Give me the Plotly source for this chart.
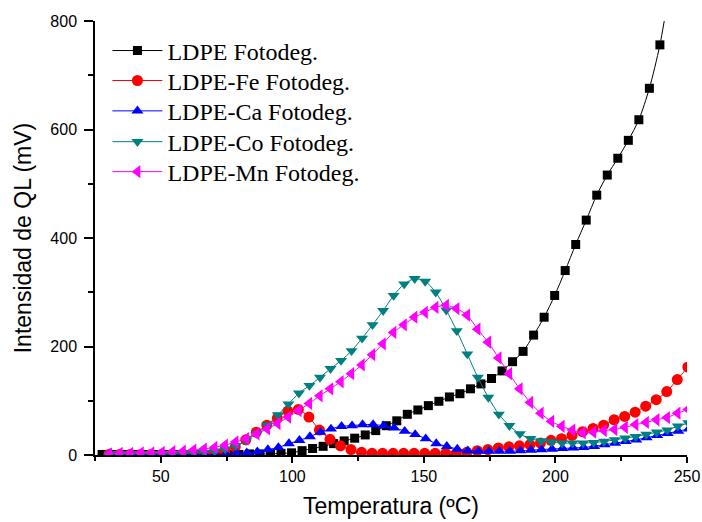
import plotly.graph_objects as go

# ---------------- data ----------------
t_ldpe = [27.7, 31.7, 35.7, 39.7, 43.7, 47.7, 51.7, 55.7, 59.7, 63.7, 67.7, 71.7, 75.7, 79.7,
          83.7, 87.7, 91.7, 95.7, 99.7, 103.7, 107.7, 111.7, 115.7, 119.7, 123.7, 127.7, 131.7,
          135.7, 139.7, 143.7, 147.7, 151.7, 155.7, 159.7, 163.7, 167.7, 171.7, 175.7, 179.7,
          183.7, 187.7, 191.7, 195.7, 199.7, 203.7, 207.7, 211.7, 215.7, 219.7, 223.7, 227.7,
          231.7, 235.7, 239.7, 243.7]
v_ldpe = [1, 1, 1, 1, 1, 1, 1, 1, 1, 1, 1, 1, 1, 1,
          2, 2, 2, 3, 4, 8, 12, 16, 21, 26, 31, 37, 45,
          54, 63, 75, 83, 91, 99, 107, 113, 122, 131, 141, 155,
          172, 191, 221, 254, 294, 340, 388, 433, 479, 516, 547, 580,
          618, 676, 756, 870]

t_fe = [30.3, 34.3, 38.3, 42.3, 46.3, 50.3, 54.3, 58.3, 62.3, 66.3, 70.3, 74.3, 78.3, 82.3,
        86.3, 90.3, 94.3, 98.3, 102.3, 106.3, 110.3, 114.3, 118.3, 122.3, 126.3, 130.3, 134.3,
        138.3, 142.3, 146.3, 150.3, 154.3, 158.3, 162.3, 166.3, 170.3, 174.3, 178.3, 182.3,
        186.3, 190.3, 194.3, 198.3, 202.3, 206.3, 210.3, 214.3, 218.3, 222.3, 226.3, 230.3,
        234.3, 238.3, 242.3, 246.3, 250.3]
v_fe = [1, 1, 1, 1, 1, 1, 1, 1, 2, 2, 4, 8, 15, 28,
        42, 55, 68, 81, 84, 70, 46, 29, 17, 10, 5, 3, 3,
        3, 3, 3, 3, 3, 3, 3, 5, 8, 10, 13, 15,
        17, 19, 22, 27, 30, 36, 43, 49, 55, 65, 71, 79,
        90, 102, 117, 139, 162]

t_ca = [30.7, 34.7, 38.7, 42.7, 46.7, 50.7, 54.7, 58.7, 62.7, 66.7, 70.7, 74.7, 78.7, 82.7,
        86.7, 90.7, 94.7, 98.7, 102.7, 106.7, 110.7, 114.7, 118.7, 122.7, 126.7, 130.7, 134.7,
        138.7, 142.7, 146.7, 150.7, 154.7, 158.7, 162.7, 166.7, 170.7, 174.7, 178.7, 182.7,
        186.7, 190.7, 194.7, 198.7, 202.7, 206.7, 210.7, 214.7, 218.7, 222.7, 226.7, 230.7,
        234.7, 238.7, 242.7, 246.7, 250.7]
v_ca = [3, 2, 1, 1, 1, 1, 1, 1, 1, 1, 1, 2, 3, 4,
        6, 10, 14, 21, 27, 34, 42, 48, 53, 54, 56, 56, 54,
        50, 44, 38, 30, 21, 16, 11, 8, 7, 7, 7, 7,
        8, 9, 10, 11, 12, 13, 14, 16, 19, 22, 25, 28,
        32, 36, 40, 44, 48]

t_co = [30.5, 34.5, 38.5, 42.5, 46.5, 50.5, 54.5, 58.5, 62.5, 66.5, 70.5, 74.5, 78.5, 82.5,
        86.5, 90.5, 94.5, 98.5, 102.5, 106.5, 110.5, 114.5, 118.5, 122.5, 126.5, 130.5, 134.5,
        138.5, 142.5, 146.5, 150.5, 154.5, 158.5, 162.5, 166.5, 170.5, 174.5, 178.5, 182.5,
        186.5, 190.5, 194.5, 198.5, 202.5, 206.5, 210.5, 214.5, 218.5, 222.5, 226.5, 230.5,
        234.5, 238.5, 242.5, 246.5, 250.5]
v_co = [2, 2, 2, 2, 2, 2, 2, 3, 4, 5, 7, 11, 17, 27,
        40, 55, 74, 94, 114, 128, 143, 159, 174, 192, 215, 240, 266,
        294, 315, 325, 320, 300, 267, 229, 186, 143, 106, 75, 54,
        39, 30, 26, 24, 22, 22, 22, 23, 25, 28, 31, 34,
        38, 42, 46, 53, 59]

t_mn = [30.4, 34.4, 38.4, 42.4, 46.4, 50.4, 54.4, 58.4, 62.4, 66.4, 70.4, 74.4, 78.4, 82.4,
        86.4, 90.4, 94.4, 98.4, 102.4, 106.4, 110.4, 114.4, 118.4, 122.4, 126.4, 130.4, 134.4,
        138.4, 142.4, 146.4, 150.4, 154.4, 158.4, 162.4, 166.4, 170.4, 174.4, 178.4, 182.4,
        186.4, 190.4, 194.4, 198.4, 202.4, 206.4, 210.4, 214.4, 218.4, 222.4, 226.4, 230.4,
        234.4, 238.4, 242.4, 246.4, 250.4]
v_mn = [2, 3, 3, 4, 4, 5, 6, 7, 9, 11, 14, 18, 24, 30,
        39, 48, 58, 70, 82, 95, 109, 122, 135, 150, 166, 185, 205,
        226, 240, 254, 263, 272, 276, 270, 258, 232, 208, 179, 150,
        122, 97, 77, 62, 53, 46, 41, 42, 45, 47, 51, 56,
        60, 65, 69, 77, 84]

series_names = ["LDPE Fotodeg.", "LDPE-Fe Fotodeg.", "LDPE-Ca Fotodeg.",
                "LDPE-Co Fotodeg.", "LDPE-Mn Fotodeg."]
x_ticks = [50, 100, 150, 200, 250]
y_ticks = [0, 200, 400, 600, 800]

# ---------------- styles ----------------
colors = ["#000000", "#FF0000", "#0000FF", "#008080", "#FF00FF"]
symbols = ["square", "circle", "triangle-up", "triangle-down", "triangle-left"]
msizes = [9, 11, 10.5, 10.5, 11.5]
legend_ids = ["legend", "legend2", "legend3", "legend4", "legend5"]
legend_y = [0.931, 0.862, 0.792, 0.721, 0.652]

xs = [t_ldpe, t_fe, t_ca, t_co, t_mn]
ys = [v_ldpe, v_fe, v_ca, v_co, v_mn]

fig = go.Figure()
for i in range(5):
    assert len(xs[i]) == len(ys[i])
    fig.add_trace(go.Scatter(
        x=xs[i], y=ys[i], name=series_names[i], mode="lines+markers",
        line=dict(color=colors[i], width=1, shape="spline", smoothing=0.8),
        marker=dict(symbol=symbols[i], size=msizes[i], color=colors[i],
                    line=dict(width=0)),
        legend=legend_ids[i],
    ))

axis_font = dict(family="Liberation Sans, Arial, sans-serif", size=16, color="black")
title_font = dict(family="Liberation Sans, Arial, sans-serif", size=23, color="black")

fig.update_xaxes(
    range=[25, 250], tickvals=x_ticks, ticks="outside", ticklen=6, tickwidth=1.5,
    tickcolor="black", showline=True, linecolor="black", linewidth=1.5,
    showgrid=False, zeroline=False, tickfont=axis_font, automargin=False,
    minor=dict(dtick=25, tick0=0, ticks="outside", ticklen=4, tickwidth=1.5,
               tickcolor="black", showgrid=False),
    title=dict(text="Temperatura (ºC)", font=title_font, standoff=14),
)
fig.update_yaxes(
    range=[0, 800], tickvals=y_ticks, ticks="outside", ticklen=9, tickwidth=1.5,
    tickcolor="black", showline=True, linecolor="black", linewidth=1.5,
    showgrid=False, zeroline=False, tickfont=axis_font, automargin=False,
    ticklabelstandoff=4,
    minor=dict(dtick=100, tick0=0, ticks="outside", ticklen=5, tickwidth=1.5,
               tickcolor="black", showgrid=False),
    title=dict(text="Intensidad de QL (mV)", font=title_font, standoff=12),
)

legend_font = dict(family="Liberation Serif, Times New Roman, serif", size=24, color="black")
leg_common = dict(x=0.021, xanchor="left", yanchor="middle", bgcolor="rgba(0,0,0,0)",
                  borderwidth=0, font=legend_font, itemwidth=50)
layout_legends = {}
for i, lid in enumerate(legend_ids):
    layout_legends[lid] = dict(leg_common, y=legend_y[i])

fig.update_layout(
    template="none",
    width=702, height=522,
    margin=dict(l=95, r=15, t=21, b=67),
    paper_bgcolor="white", plot_bgcolor="white",
    showlegend=True,
    **layout_legends,
)

fig.write_html("out.html")
